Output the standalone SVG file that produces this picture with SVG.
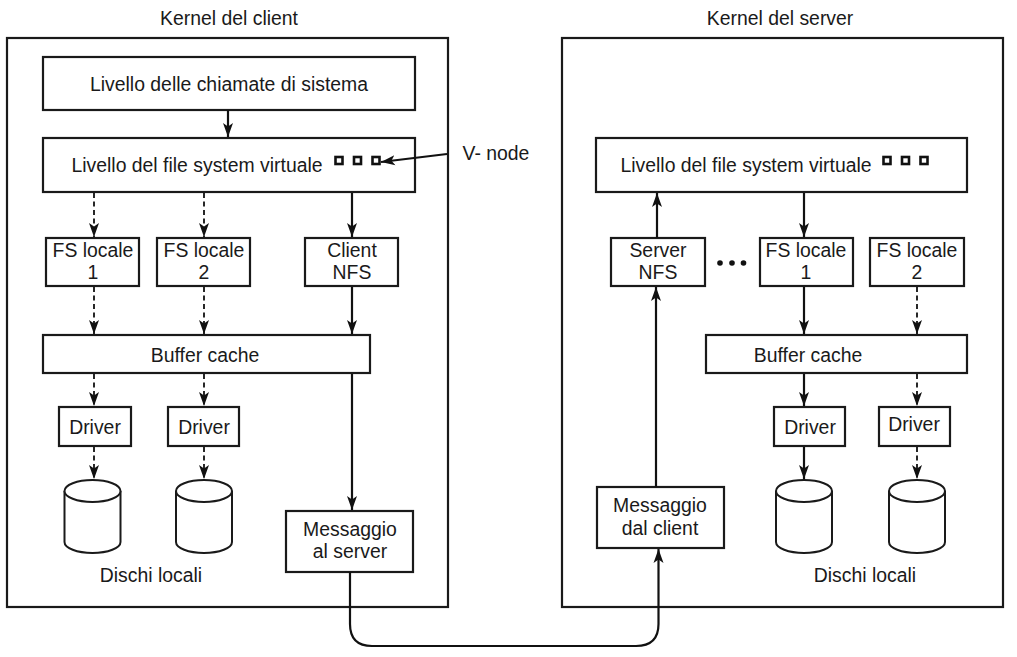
<svg xmlns="http://www.w3.org/2000/svg" width="1017" height="657" viewBox="0 0 1017 657">
<style>
text{font-family:"Liberation Sans",Arial,sans-serif;font-size:19.4px;fill:#1a1a1a;text-anchor:middle}
.box{fill:#fff;stroke:#1a1a1a;stroke-width:2.2}
.frame{fill:none;stroke:#1a1a1a;stroke-width:2.2}
.sq{fill:#fff;stroke:#111;stroke-width:2.6}
.c{fill:none;stroke:#111;stroke-width:2.2}
.d{fill:none;stroke:#111;stroke-width:1.8;stroke-dasharray:5 3.5}
.cyl{fill:#fff;stroke:#1a1a1a;stroke-width:2}
</style>
<defs>
<marker id="ah" markerUnits="userSpaceOnUse" markerWidth="15" markerHeight="12" refX="14" refY="5" orient="auto" viewBox="0 0 15 10">
<path d="M0,0 L14,5 L0,10 L3.5,5 z" fill="#111"/>
</marker>
</defs>
<rect width="1017" height="657" fill="#fff"/>

<g id="client-kernel">
<text x="229" y="25">Kernel del client</text>
<rect class="frame" x="7" y="38" width="441" height="569"/>
</g>
<g id="server-kernel">
<text x="780" y="25">Kernel del server</text>
<rect class="frame" x="562" y="38" width="441" height="569"/>
</g>

<g id="c-syscall">
<rect class="box" x="43" y="57" width="372" height="53"/>
<text x="229" y="91">Livello delle chiamate di sistema</text>
</g>
<g id="c-vfs">
<rect class="box" x="43" y="138" width="372" height="54"/>
<text x="197" y="172">Livello del file system virtuale</text>
<rect class="sq" x="335.5" y="157" width="7" height="7"/>
<rect class="sq" x="354" y="157" width="7" height="7"/>
<rect class="sq" x="372.5" y="157" width="7" height="7"/>
</g>
<g id="vnode-label">
<text x="496" y="160">V- node</text>
</g>
<g id="c-fs1">
<rect class="box" x="46" y="238" width="93" height="48"/>
<text x="93" y="257">FS locale</text><text x="93" y="279">1</text>
</g>
<g id="c-fs2">
<rect class="box" x="157" y="238" width="93" height="48"/>
<text x="204" y="257">FS locale</text><text x="204" y="279">2</text>
</g>
<g id="c-nfs">
<rect class="box" x="305" y="238" width="93" height="48"/>
<text x="352" y="257">Client</text><text x="352" y="279">NFS</text>
</g>
<g id="c-buffer">
<rect class="box" x="43" y="335" width="327" height="38"/>
<text x="205" y="362">Buffer cache</text>
</g>
<g id="c-driver1">
<rect class="box" x="59" y="407" width="72" height="39"/>
<text x="95" y="434">Driver</text>
</g>
<g id="c-driver2">
<rect class="box" x="168" y="407" width="71" height="39"/>
<text x="204" y="434">Driver</text>
</g>
<g id="c-disk1">
<path class="cyl" d="M64.5,491 V542 A28,11 0 0 0 120.5,542 V491"/>
<ellipse class="cyl" cx="92.5" cy="491" rx="28" ry="11"/>
</g>
<g id="c-disk2">
<path class="cyl" d="M176,491 V542 A28,11 0 0 0 232,542 V491"/>
<ellipse class="cyl" cx="204" cy="491" rx="28" ry="11"/>
</g>
<g id="c-disks-label"><text x="151" y="582">Dischi locali</text></g>
<g id="c-msg">
<rect class="box" x="286" y="511" width="127" height="61"/>
<text x="350" y="536">Messaggio</text><text x="350" y="558">al server</text>
</g>

<g id="s-vfs">
<rect class="box" x="596" y="138" width="371" height="54"/>
<text x="746" y="172">Livello del file system virtuale</text>
<rect class="sq" x="883.5" y="157" width="7" height="7"/>
<rect class="sq" x="902" y="157" width="7" height="7"/>
<rect class="sq" x="920.5" y="157" width="7" height="7"/>
</g>
<g id="s-nfs">
<rect class="box" x="611" y="238" width="94" height="48"/>
<text x="658" y="257">Server</text><text x="658" y="279">NFS</text>
</g>
<g id="s-dots">
<circle cx="720" cy="263" r="2.8" fill="#111"/>
<circle cx="732" cy="263" r="2.8" fill="#111"/>
<circle cx="743.5" cy="263" r="2.8" fill="#111"/>
</g>
<g id="s-fs1">
<rect class="box" x="760" y="238" width="93" height="48"/>
<text x="806" y="257">FS locale</text><text x="806" y="279">1</text>
</g>
<g id="s-fs2">
<rect class="box" x="870" y="238" width="94" height="48"/>
<text x="917" y="257">FS locale</text><text x="917" y="279">2</text>
</g>
<g id="s-buffer">
<rect class="box" x="706" y="335" width="261" height="38"/>
<text x="808" y="362">Buffer cache</text>
</g>
<g id="s-driver1">
<rect class="box" x="774" y="407" width="71" height="39"/>
<text x="810" y="434">Driver</text>
</g>
<g id="s-driver2">
<rect class="box" x="879" y="407" width="71" height="39"/>
<text x="914" y="431">Driver</text>
</g>
<g id="s-disk1">
<path class="cyl" d="M776,491 V542 A28,11 0 0 0 832,542 V491"/>
<ellipse class="cyl" cx="804" cy="491" rx="28" ry="11"/>
</g>
<g id="s-disk2">
<path class="cyl" d="M889,491 V542 A28,11 0 0 0 945,542 V491"/>
<ellipse class="cyl" cx="917" cy="491" rx="28" ry="11"/>
</g>
<g id="s-disks-label"><text x="865" y="582">Dischi locali</text></g>
<g id="s-msg">
<rect class="box" x="597" y="487" width="127" height="61"/>
<text x="660" y="512">Messaggio</text><text x="660" y="535">dal client</text>
</g>

<g id="connectors">
<path class="c" d="M228,110 V137" marker-end="url(#ah)"/>
<path class="c" d="M447,154 L381,162" marker-end="url(#ah)"/>
<path class="d" d="M94,193 V237" marker-end="url(#ah)"/>
<path class="d" d="M204,193 V237" marker-end="url(#ah)"/>
<path class="c" d="M352,193 V237" marker-end="url(#ah)"/>
<path class="d" d="M94,287 V334" marker-end="url(#ah)"/>
<path class="d" d="M204,287 V334" marker-end="url(#ah)"/>
<path class="c" d="M352,287 V334" marker-end="url(#ah)"/>
<path class="d" d="M94,374 V406" marker-end="url(#ah)"/>
<path class="d" d="M204,374 V406" marker-end="url(#ah)"/>
<path class="c" d="M352,374 V510" marker-end="url(#ah)"/>
<path class="d" d="M94,447 V479" marker-end="url(#ah)"/>
<path class="d" d="M204,447 V479" marker-end="url(#ah)"/>
<path class="c" d="M350,572 V624 Q350,646 372,646 H636 Q658.5,646 658.5,624 V549" marker-end="url(#ah)"/>
<path class="c" d="M656,487 V287" marker-end="url(#ah)"/>
<path class="c" d="M657,238 V193" marker-end="url(#ah)"/>
<path class="c" d="M804,193 V237" marker-end="url(#ah)"/>
<path class="c" d="M804,287 V334" marker-end="url(#ah)"/>
<path class="d" d="M917,287 V334" marker-end="url(#ah)"/>
<path class="c" d="M804,374 V406" marker-end="url(#ah)"/>
<path class="d" d="M917,374 V406" marker-end="url(#ah)"/>
<path class="c" d="M804,447 V479" marker-end="url(#ah)"/>
<path class="d" d="M917,447 V479" marker-end="url(#ah)"/>
</g>
</svg>
